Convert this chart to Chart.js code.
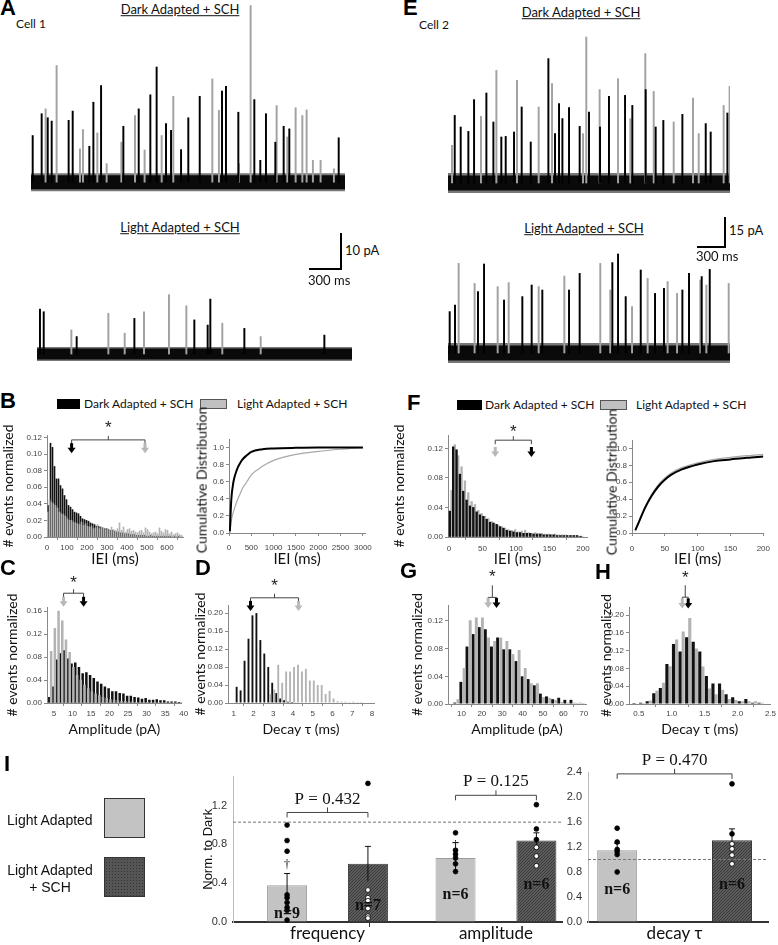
<!DOCTYPE html>
<html>
<head>
<meta charset="utf-8">
<script src="https://cdn.jsdelivr.net/npm/chart.js@4.4.1/dist/chart.umd.min.js"></script>
<style>
  body { margin: 0; background: #fff; }
  #fig { position: relative; width: 778px; height: 945px; overflow: hidden; background: #fff; }
  #fig canvas { position: absolute; }
  .t { position: absolute; white-space: nowrap; line-height: 1.2; color: #111; font-family: Lato, "Open Sans", sans-serif; }
  .letter { font: bold 22px "Liberation Sans", Arial, sans-serif; color: #000; }
  .box { position: absolute; box-sizing: border-box; }
</style>
</head>
<body>
<div id="fig"></div>
<script>
// ---------- A / E : example traces, event time (ms) and peak (pA) ----------
const c1DarkBlackT = [22, 106, 163, 200, 359, 397, 553, 591, 663, 872, 1016, 1125, 1184, 1272, 1319, 1413, 1481, 1588, 1797, 1834, 1950, 2100, 2156, 2209, 2297, 2375, 2428, 2891];
const c1DarkBlackA = [12.6, 18.5, 17.4, 16.5, 16.7, 19.2, 9.7, 21.6, 26.1, 15.1, 19.8, 23.6, 31.1, 15.8, 14.0, 8.8, 17.4, 23.2, 24.6, 25.9, 18.9, 22.3, 5.9, 18.5, 10.8, 15.1, 14.4, 12.0];
const c1DarkGrayT = [131, 234, 453, 481, 616, 703, 841, 969, 1059, 1219, 1328, 1694, 1756, 1944, 2053, 2297, 2397, 2475, 2538, 2578, 2637, 2709, 2834];
const c1DarkGrayA = [19.8, 31.5, 9.0, 14.2, 13.3, 5.0, 10.8, 18.0, 8.7, 12.6, 23.2, 27.9, 19.4, 5.0, 47.7, 20.7, 12.2, 20.1, 18.0, 19.5, 5.9, 5.9, 3.6];
const c1LightBlackT = [34, 69, 378, 919, 1481, 1606, 1631, 1950, 2700];
const c1LightBlackA = [12.1, 11.4, 4.7, 9.6, 9.2, 7.8, 14.8, 6.9, 5.1];
const c1LightGrayT = [316, 663, 816, 997, 1231, 1394, 1731, 2091];
const c1LightGrayA = [6.5, 11.0, 5.6, 11.4, 16.0, 13.0, 8.3, 4.7];

const c2DarkBlackT = [79, 143, 225, 286, 418, 493, 578, 625, 714, 796, 893, 1082, 1153, 1196, 1232, 1303, 1417, 1517, 1635, 1731, 1903, 1981, 2124, 2231, 2313, 2517, 2767, 2820, 2999];
const c2DarkBlackA = [33.8, 28, 25.8, 41.7, 45, 30.5, 23, 23.3, 25.5, 38, 20.5, 62.2, 24.7, 39.7, 32.2, 37.7, 28.3, 35.5, 28, 43.3, 43.8, 38.8, 46.7, 28, 31.3, 34.3, 29.7, 25.5, 35];
const c2DarkGrayT = [36, 346, 511, 732, 964, 1107, 1439, 1474, 1617, 1814, 1946, 2106, 2196, 2410, 2617, 2678, 2945, 3009];
const c2DarkGrayA = [18.8, 33.3, 56.3, 51.3, 38, 49.7, 24.7, 73, 46.7, 52.2, 32.2, 64.7, 45.8, 30.5, 42.5, 24.7, 38.8, 48.3];
const c2LightBlackT = [25, 82, 328, 393, 607, 803, 903, 1017, 1303, 1417, 1767, 1828, 1910, 2071, 2224, 2320, 2517, 2588, 2724, 2810];
const c2LightBlackA = [20.7, 24, 30.7, 44.5, 26.5, 28.2, 34, 31.5, 31.5, 39.8, 45.2, 49.5, 28.2, 41.5, 29.8, 32.3, 31.5, 39.8, 38.2, 41.8];
const c2LightGrayT = [107, 278, 525, 643, 964, 1239, 1624, 1731, 1964, 2131, 2345, 2446, 2695, 2760, 2999];
const c2LightGrayA = [44.8, 34.8, 33.2, 35.2, 33.2, 38.5, 44.8, 31.5, 23.2, 37.3, 35.7, 29.8, 36.5, 34, 34.8];

// ---------- B : cell 1 IEI histogram (10 ms bins) and cumulative ----------
const bBins = [5,15,25,35,45,55,65,75,85,95,105,115,125,135,145,155,165,175,185,195,205,215,225,235,245,255,265,275,285,295,305,315,325,335,345,355,365,375,385,395,405,415,425,435,445,455,465,475,485,495,505,515,525,535,545,555,565,575,585,595,605,615,625,635,645,655,665,675];
const bDark = [0.038,0.113,0.108,0.085,0.070,0.070,0.062,0.058,0.050,0.045,0.038,0.036,0.033,0.030,0.029,0.028,0.025,0.022,0.021,0.020,0.019,0.017,0.016,0.015,0.013,0.013,0.012,0.011,0.010,0.010,0.009,0.008,0.008,0.007,0.006,0.006,0.005,0.005,0.004,0.004,0.004,0.003,0.003,0.003,0.002,0.002,0.002,0.002,0.002,0.001,0.001,0.002,0.001,0.001,0.001,0.001,0.001,0.001,0.001,0.001,0.001,0.001,0.000,0.001,0.000,0.001,0.000,0.000];
const bLight = [0.030,0.045,0.042,0.040,0.038,0.035,0.030,0.028,0.027,0.025,0.022,0.020,0.020,0.018,0.017,0.016,0.015,0.018,0.014,0.016,0.013,0.012,0.013,0.010,0.011,0.015,0.010,0.012,0.011,0.009,0.010,0.008,0.012,0.009,0.008,0.010,0.017,0.008,0.012,0.006,0.009,0.010,0.007,0.008,0.006,0.005,0.007,0.008,0.005,0.011,0.009,0.006,0.004,0.005,0.006,0.004,0.011,0.007,0.005,0.009,0.008,0.004,0.006,0.003,0.004,0.005,0.003,0.002];
const bMeans = [123, 490];              // dark, light (ms)
const bCumX = [20, 50, 100, 150, 200, 250, 300, 400, 500, 750, 1000, 1500, 2000, 2500, 3000];
const bCumDark = [0.02, 0.38, 0.60, 0.70, 0.77, 0.82, 0.86, 0.91, 0.95, 0.98, 0.99, 0.997, 1.0, 1.0, 1.0];
const bCumLight = [0.0, 0.14, 0.25, 0.33, 0.40, 0.46, 0.52, 0.60, 0.68, 0.78, 0.85, 0.92, 0.955, 0.98, 1.0];

// ---------- C : cell 1 amplitude (1 pA bins) ----------
const cBins = [3.5,4.5,5.5,6.5,7.5,8.5,9.5,10.5,11.5,12.5,13.5,14.5,15.5,16.5,17.5,18.5,19.5,20.5,21.5,22.5,23.5,24.5,25.5,26.5,27.5,28.5,29.5,30.5,31.5,32.5,33.5,34.5,35.5,36.5,37.5,38.5,39.5];
const cDark = [0.010,0.028,0.075,0.086,0.091,0.077,0.068,0.070,0.062,0.051,0.053,0.048,0.043,0.037,0.033,0.028,0.025,0.020,0.020,0.017,0.016,0.012,0.012,0.010,0.009,0.007,0.008,0.005,0.005,0.006,0.004,0.004,0.002,0.002,0.002,0.001,0.001];
const cLight = [0,0.090,0.130,0.160,0.143,0.110,0.088,0.062,0.048,0.040,0.031,0.025,0.020,0.016,0.013,0.010,0.008,0.006,0.005,0.004,0.003,0.003,0.002,0.002,0.001,0.001,0.001,0.001,0,0,0,0,0,0,0,0,0];
const cMeans = [13, 7.6];

// ---------- D : cell 1 decay tau (0.2 ms bins) ----------
const dBins = [1.1,1.3,1.5,1.7,1.9,2.1,2.3,2.5,2.7,2.9,3.1,3.3,3.5,3.7,3.9,4.1,4.3,4.5,4.7,4.9,5.1,5.3,5.5,5.7,5.9,6.1,6.3,6.5,6.7,6.9,7.1,7.3,7.5,7.7,7.9];
const dDark = [0.036,0.028,0.094,0.143,0.195,0.200,0.140,0.110,0.080,0.045,0.022,0.010,0.006,0.003,0.002,0.001,0,0,0,0,0,0,0,0,0,0,0,0,0,0,0,0,0,0,0];
const dLight = [0,0,0,0,0,0,0,0,0,0.020,0.030,0.085,0.045,0.070,0.070,0.080,0.085,0.070,0.076,0.050,0.050,0.040,0.040,0.020,0.027,0.010,0.004,0.003,0.003,0.002,0.003,0.002,0.002,0.001,0.001];
const dMeans = [1.85, 4.28];

// ---------- F : cell 2 IEI (5 ms bins) and cumulative ----------
const fBins = [2.5,7.5,12.5,17.5,22.5,27.5,32.5,37.5,42.5,47.5,52.5,57.5,62.5,67.5,72.5,77.5,82.5,87.5,92.5,97.5,102.5,107.5,112.5,117.5,122.5,127.5,132.5,137.5,142.5,147.5,152.5,157.5,162.5,167.5,172.5,177.5,182.5,187.5,192.5,197.5];
const fDark = [0.035,0.122,0.118,0.085,0.062,0.050,0.042,0.040,0.034,0.030,0.028,0.024,0.020,0.019,0.017,0.014,0.012,0.009,0.008,0.007,0.006,0.006,0.005,0.005,0.005,0.004,0.004,0.004,0.003,0.003,0.003,0.003,0.002,0.002,0.002,0.002,0.002,0.002,0.002,0.001];
const fLight = [0.063,0.125,0.110,0.095,0.076,0.060,0.048,0.044,0.036,0.032,0.028,0.025,0.021,0.018,0.016,0.014,0.012,0.010,0.009,0.010,0.007,0.008,0.009,0.006,0.005,0.006,0.005,0.005,0.004,0.004,0.003,0.004,0.003,0.003,0.003,0.002,0.002,0.002,0.001,0.001];
const fMeans = [123, 69];
const fCumX = [5, 10, 20, 30, 40, 50, 60, 75, 100, 125, 150, 175, 200];
const fCumDark = [0.03, 0.12, 0.30, 0.44, 0.55, 0.63, 0.69, 0.75, 0.81, 0.85, 0.87, 0.89, 0.905];
const fCumLight = [0.04, 0.13, 0.31, 0.46, 0.57, 0.65, 0.71, 0.77, 0.83, 0.87, 0.895, 0.915, 0.93];

// ---------- G : cell 2 amplitude (3 pA bins) ----------
const gBins = [6,9,12,15,18,21,24,27,30,33,36,39,42,45,48,51,54,57,60,63,66,69];
const gDark = [0.002,0.032,0.083,0.101,0.111,0.108,0.083,0.096,0.079,0.079,0.062,0.040,0.036,0.027,0.015,0.011,0.007,0.009,0.006,0.006,0.001,0.001];
const gLight = [0,0.007,0.052,0.121,0.125,0.125,0.096,0.091,0.096,0.091,0.072,0.078,0.052,0.030,0.030,0.010,0.009,0.006,0.003,0.002,0.002,0.002];
const gMeans = [27.2, 23.1];

// ---------- H : cell 2 decay tau (0.1 ms bins) ----------
const hBins = [0.45,0.55,0.65,0.75,0.85,0.95,1.05,1.15,1.25,1.35,1.45,1.55,1.65,1.75,1.85,1.95,2.05,2.15,2.25,2.35];
const hDark = [0.002,0.003,0.006,0.024,0.036,0.090,0.135,0.118,0.150,0.140,0.118,0.063,0.046,0.046,0.022,0.015,0.006,0.011,0.003,0.003];
const hLight = [0,0.002,0.008,0.030,0.048,0.085,0.145,0.163,0.193,0.125,0.084,0.035,0.022,0.032,0.011,0.009,0.006,0.006,0.006,0.003];
const hMeans = [1.25, 1.16];

// ---------- I : summary, normalised to dark ----------
const iCats = ['frequency', 'amplitude'];
const iLight = [0.38, 0.66];
const iLightTop = [0.50, 0.82];
const iSch = [0.60, 0.84];
const iSchTop = [0.78, 0.92];
const iLightCells = [[1.00, 0.84, 0.73, 0.28, 0.25, 0.20, 0.15, 0.12, 0.02], [0.92, 0.74, 0.70, 0.66, 0.60, 0.52]];
const iSchCells = [[1.43, 0.33, 0.25, 0.22, 0.14, 0.06, 0.04], [1.21, 0.96, 0.85, 0.77, 0.68, 0.58]];
const iLightN = ['n=9', 'n=6'];
const iSchN = ['n=7', 'n=6'];
const iP = ['P = 0.432', 'P = 0.125'];
const decayCats = ['decay τ'];
const decayLight = [1.15];
const decayLightTop = [1.26];
const decaySch = [1.31];
const decaySchTop = [1.49];
const decayLightCells = [[1.50, 1.28, 1.16, 1.13, 1.08, 0.80]];
const decaySchCells = [[2.21, 1.41, 1.25, 1.17, 1.07, 0.93]];
const decayP = ['P = 0.470'];

// ---------------------------------------------------------------------
const fig = document.getElementById('fig');
Chart.defaults.font.family = '"Liberation Sans", Arial, sans-serif';
Chart.defaults.animation = false;
Chart.defaults.responsive = false;
Chart.defaults.plugins.legend.display = false;
Chart.defaults.plugins.tooltip.enabled = false;

const BLACK = '#111', GREY = '#b3b3b3';

function canvasAt(l, t, w, h) {
  const c = document.createElement('canvas');
  c.width = w; c.height = h;
  c.style.left = l + 'px'; c.style.top = t + 'px';
  c.style.width = w + 'px'; c.style.height = h + 'px';
  fig.appendChild(c);
  return c.getContext('2d');
}

function txt(s, x, y, css, centered, cls) {
  const d = document.createElement('div');
  d.className = cls || 't';
  d.textContent = s;
  d.style.position = 'absolute';
  d.style.whiteSpace = 'nowrap';
  d.style.left = x + 'px';
  d.style.top = y + 'px';
  d.style.transform = centered ? 'translate(-50%,-50%)' : 'translateY(-50%)';
  if (css) Object.assign(d.style, css);
  fig.appendChild(d);
  return d;
}

function vtxt(s, x, y, css) {
  const d = txt(s, x, y, css, true);
  d.style.transform = 'translate(-50%,-50%) rotate(-90deg)';
}

function rect(l, t, w, h, css) {
  const d = document.createElement('div');
  d.className = 'box';
  Object.assign(d.style, { left: l + 'px', top: t + 'px', width: w + 'px', height: h + 'px' }, css);
  fig.appendChild(d);
}

// dotted fill used for the "+ SCH" bars
function dotPattern(ctx) {
  const c = document.createElement('canvas');
  c.width = 3; c.height = 3;
  const g = c.getContext('2d');
  g.fillStyle = '#5c5c5c'; g.fillRect(0, 0, 3, 3);
  g.fillStyle = '#3a3a3a'; g.fillRect(0, 0, 1, 1); g.fillRect(2, 1, 1, 1); g.fillRect(1, 2, 1, 1);
  return ctx.createPattern(c, 'repeat');
}

// ---------------- traces ----------------
function trace(l, t, w, h, xMax, yMin, yMax, bt, ba, gt, ga, band) {
  const ctx = canvasAt(l, t, w, h);
  const pts = (ts, as) => ts.map((v, i) => ({ x: v, y: as[i] }));
  new Chart(ctx, {
    type: 'bar',
    data: { datasets: [
      { data: pts(bt, ba), backgroundColor: '#000', barThickness: 1.3 },
      { data: pts(gt, ga), backgroundColor: '#a2a2a2', barThickness: 1.3 },
      { type: 'line', data: [{ x: 0, y: 0 }, { x: xMax, y: 0 }], borderColor: '#0a0a0a', borderWidth: band[1], pointRadius: 0 },
      { type: 'line', data: [{ x: 0, y: 0 }, { x: xMax, y: 0 }], borderColor: '#777', borderWidth: band[0], pointRadius: 0 }
    ] },
    options: {
      layout: { padding: 0 },
      scales: {
        x: { type: 'linear', display: false, min: 0, max: xMax, offset: false },
        y: { display: false, min: yMin, max: yMax }
      }
    }
  });
}

// ---------------- histogram helpers ----------------
function arrow(ctx, x, y, col) {
  ctx.fillStyle = col;
  ctx.fillRect(x - 1.5, y - 5, 3, 5);
  ctx.beginPath();
  ctx.moveTo(x - 4, y - 0.5); ctx.lineTo(x + 4, y - 0.5); ctx.lineTo(x, y + 5);
  ctx.closePath(); ctx.fill();
}

const meanMarks = {
  id: 'meanMarks',
  afterDraw(chart, args, o) {
    if (!o.means) return;
    const { ctx, scales: { x, y } } = chart;
    const xd = x.getPixelForValue(o.means[0]), xl = x.getPixelForValue(o.means[1]);
    const ya = y.getPixelForValue(o.at[0]), yb = y.getPixelForValue(o.at[1]), ys = y.getPixelForValue(o.at[2]);
    const x0 = Math.min(xd, xl), x1 = Math.max(xd, xl), xm = (x0 + x1) / 2;
    ctx.save();
    ctx.strokeStyle = '#444'; ctx.lineWidth = 1;
    ctx.beginPath();
    ctx.moveTo(x0, yb + 4); ctx.lineTo(x0, yb); ctx.lineTo(x1, yb); ctx.lineTo(x1, yb + 4);
    ctx.moveTo(xm, yb); ctx.lineTo(xm, yb - (o.stem || 4));
    ctx.stroke();
    arrow(ctx, xd, ya, '#000');
    arrow(ctx, xl, ya, '#b8b8b8');
    ctx.fillStyle = '#222';
    ctx.font = '17px "Liberation Sans"';
    ctx.textAlign = 'center'; ctx.textBaseline = 'middle';
    ctx.fillText('*', xm, ys);
    ctx.restore();
  }
};

function linAxis(o, horiz, size) {
  return {
    type: 'linear', min: o.min, max: o.max, offset: false,
    afterBuildTicks: s => { s.ticks = o.ticks.map(v => ({ value: v })); },
    afterFit: s => { if (horiz) s.height = size; else s.width = size; },
    ticks: { autoSkip: false, maxRotation: 0, font: { size: 8 }, color: '#444', padding: o.pad == null ? 2 : o.pad,
             callback: v => Number(v).toFixed(o.dec) },
    grid: { display: true, drawOnChartArea: false, drawTicks: true, tickLength: 3, color: '#888' },
    border: { display: true, color: '#888' },
    title: { display: !!o.title, text: o.title, color: '#111',
             font: { family: 'Lato', size: o.ts || 14 }, padding: { top: o.tp == null ? 2 : o.tp, bottom: 0 } }
  };
}

function plotBox(g, cfg) {
  const l = Math.round(g.pl - g.yW), t = Math.round(g.pt - g.padT);
  const w = Math.round(g.pr + g.padR - l), h = Math.round(g.pb + g.xH - t);
  const ctx = canvasAt(l, t, w, h);
  cfg.options.layout = { padding: { top: g.padT, right: g.padR, left: 0, bottom: 0 } };
  return new Chart(ctx, cfg);
}

function hist(g, bins, first, second, xo, yo, marks, pct) {
  plotBox(g, {
    type: 'bar',
    data: { datasets: [first, second].map(d => ({
      data: bins.map((b, i) => ({ x: b, y: d.v[i] })),
      backgroundColor: d.c, borderWidth: 0, categoryPercentage: pct, barPercentage: 1
    })) },
    options: {
      scales: { x: linAxis(xo, true, g.xH), y: linAxis(yo, false, g.yW) },
      plugins: { meanMarks: marks }
    },
    plugins: [meanMarks]
  });
}

function cumul(g, xs, dark, light, xo, yo) {
  const pts = v => xs.map((x, i) => ({ x, y: v[i] }));
  plotBox(g, {
    type: 'line',
    data: { datasets: [
      { data: pts(dark), borderColor: '#000', borderWidth: 2, pointRadius: 0, cubicInterpolationMode: 'monotone' },
      { data: pts(light), borderColor: '#a8a8a8', borderWidth: 1.2, pointRadius: 0, cubicInterpolationMode: 'monotone' }
    ] },
    options: { scales: { x: linAxis(xo, true, g.xH), y: linAxis(yo, false, g.yW) } }
  });
}

// ---------------- summary bar plugin ----------------
const barExtras = {
  id: 'barExtras',
  afterDatasetsDraw(chart, args, o) {
    const { ctx, scales: { y }, chartArea } = chart;
    ctx.save();
    const yr = y.getPixelForValue(o.ref);
    ctx.strokeStyle = '#777'; ctx.lineWidth = 1; ctx.setLineDash([3, 2]);
    ctx.beginPath(); ctx.moveTo(chartArea.left, yr); ctx.lineTo(chartArea.right, yr); ctx.stroke();
    ctx.setLineDash([]);
    o.sets.forEach((s, di) => {
      chart.getDatasetMeta(di).data.forEach((bar, i) => {
        const bx = bar.x;
        const yt = y.getPixelForValue(s.top[i]);
        const ylo = y.getPixelForValue(2 * s.mean[i] - s.top[i]);
        ctx.strokeStyle = '#111'; ctx.lineWidth = 1;
        ctx.beginPath();
        ctx.moveTo(bx, ylo); ctx.lineTo(bx, yt);
        ctx.moveTo(bx - 3, yt); ctx.lineTo(bx + 3, yt);
        ctx.stroke();
        s.cells[i].forEach(v => {
          ctx.beginPath();
          ctx.arc(bx, y.getPixelForValue(v), 2.4, 0, Math.PI * 2);
          ctx.fillStyle = (s.hollow && v < s.mean[i]) ? '#fff' : '#000';
          ctx.fill();
          ctx.strokeStyle = '#000'; ctx.lineWidth = 0.8; ctx.stroke();
        });
        if (s.dagger && s.dagger[i] != null) {
          ctx.fillStyle = '#222'; ctx.font = '13px "Liberation Serif"';
          ctx.textAlign = 'center'; ctx.textBaseline = 'middle';
          ctx.fillText('†', bx, y.getPixelForValue(s.dagger[i]));
        }
        ctx.fillStyle = '#111'; ctx.font = 'bold 16px "Liberation Serif"';
        ctx.textAlign = 'center'; ctx.textBaseline = 'middle';
        ctx.fillText(s.n[i], bx, y.getPixelForValue(s.nAt[i]));
      });
    });
    const m0 = chart.getDatasetMeta(0).data, m1 = chart.getDatasetMeta(1).data;
    o.p.forEach((p, i) => {
      const x0 = m0[i].x, x1 = m1[i].x, xm = (x0 + x1) / 2;
      const yb = y.getPixelForValue(o.bracketAt[i]);
      ctx.strokeStyle = '#444'; ctx.lineWidth = 1;
      ctx.beginPath();
      ctx.moveTo(x0, yb + 5); ctx.lineTo(x0, yb); ctx.lineTo(x1, yb); ctx.lineTo(x1, yb + 5);
      ctx.moveTo(xm, yb); ctx.lineTo(xm, yb - 5);
      ctx.stroke();
      ctx.fillStyle = '#111'; ctx.font = '17px "Liberation Serif"';
      ctx.textAlign = 'center'; ctx.textBaseline = 'middle';
      ctx.fillText(p, xm, y.getPixelForValue(o.pAt[i]));
    });
    ctx.restore();
  }
};

// g.x: [min, max] of the category axis (category i sits at i + 1), off: half distance between the two bars
function summary(g, cats, light, sch, ymax, yticks, title, extras, off) {
  const pat = dotPattern(document.createElement('canvas').getContext('2d'));
  const at = (vals, d) => vals.map((v, i) => ({ x: i + 1 + d, y: v }));
  const catTicks = g.mid ? [1, 1.5, 2] : [1];
  plotBox(g, {
    type: 'bar',
    data: { datasets: [
      { data: at(light, -off), backgroundColor: '#c3c3c3', borderColor: '#9c9c9c', borderWidth: 1, grouped: false, maxBarThickness: 40 },
      { data: at(sch, off), backgroundColor: pat, borderColor: '#3a3a3a', borderWidth: 1, grouped: false, maxBarThickness: 40 }
    ] },
    options: {
      scales: {
        x: {
          type: 'linear', min: g.x[0], max: g.x[1], offset: false,
          afterBuildTicks: s => { s.ticks = catTicks.map(v => ({ value: v })); },
          afterFit: s => { s.height = g.xH; },
          ticks: { autoSkip: false, maxRotation: 0, font: { family: 'Lato', size: 17 }, color: '#111', padding: -4,
                   callback: v => (Number.isInteger(v) ? cats[v - 1] : '') },
          grid: { display: true, drawOnChartArea: false, drawTicks: true, tickLength: 5,
                  color: c => (c.tick && !Number.isInteger(c.tick.value)) ? '#333' : 'rgba(0,0,0,0)' },
          border: { display: true, color: '#333', width: 2 }
        },
        y: {
          min: 0, max: ymax,
          afterBuildTicks: s => { s.ticks = yticks.map(v => ({ value: v })); },
          afterFit: s => { s.width = g.yW; },
          ticks: { font: { family: '"Liberation Sans Narrow", "Liberation Sans"', size: 11 }, color: '#333', padding: 6,
                   callback: v => Number(v).toFixed(1) },
          grid: { display: true, drawOnChartArea: false, drawTicks: false, color: 'rgba(0,0,0,0)' },
          border: { display: true, color: '#bbb' },
          title: { display: !!title, text: title, color: '#111', font: { size: 13 }, padding: { top: 2, bottom: 0 } }
        }
      },
      plugins: { barExtras: extras }
    },
    plugins: [barExtras]
  });
}

// ===================== build figure =====================
// ---- A ----
txt('A', 0, 8, null, false, 'letter');
txt('Cell 1', 16, 24, { fontSize: '12px' });
txt('Dark Adapted + SCH', 180, 10, { fontSize: '13px', textDecoration: 'underline' }, true);
txt('Light Adapted + SCH', 180, 228, { fontSize: '13px', textDecoration: 'underline' }, true);
trace(31, 0, 314, 197, 2944, -4, 49.2, c1DarkBlackT, c1DarkBlackA, c1DarkGrayT, c1DarkGrayA, [18, 14]);
trace(37, 285, 315, 85, 2953, -4.3, 18.6, c1LightBlackT, c1LightBlackA, c1LightGrayT, c1LightGrayA, [14, 11]);
rect(340, 233, 2, 37, { background: '#000' });
rect(309, 268, 33, 2, { background: '#000' });
txt('10 pA', 345, 251, { fontSize: '13px' });
txt('300 ms', 308, 281, { fontSize: '13px' });

// ---- E ----
txt('E', 403, 8, null, false, 'letter');
txt('Cell 2', 419, 25, { fontSize: '12px' });
txt('Dark Adapted + SCH', 581, 13, { fontSize: '13px', textDecoration: 'underline' }, true);
txt('Light Adapted + SCH', 584, 229, { fontSize: '13px', textDecoration: 'underline' }, true);
trace(448, 30, 282, 170, 3020, -8.5, 76.5, c2DarkBlackT, c2DarkBlackA, c2DarkGrayT, c2DarkGrayA, [20, 15]);
trace(448, 250, 282, 122, 3020, -9.5, 51.5, c2LightBlackT, c2LightBlackA, c2LightGrayT, c2LightGrayA, [20, 15]);
rect(724, 217, 2, 31, { background: '#000' });
rect(697, 246, 29, 2, { background: '#000' });
txt('15 pA', 729, 231, { fontSize: '13px' });
txt('300 ms', 696, 257, { fontSize: '13px' });

// ---- B / F legends ----
txt('B', 0, 401, null, false, 'letter');
rect(57, 399, 23, 10, { background: '#000' });
txt('Dark Adapted + SCH', 84, 403.5, { fontSize: '12px' });
rect(200, 399, 27, 10, { background: '#c0c0c0', border: '1px solid #555' });
txt('Light Adapted + SCH', 237, 403.5, { fontSize: '12px' });

txt('F', 407, 403, null, false, 'letter');
rect(457, 400, 25, 10, { background: '#000' });
txt('Dark Adapted + SCH', 485, 404.5, { fontSize: '12px' });
rect(600, 400, 27, 10, { background: '#c0c0c0', border: '1px solid #555' });
txt('Light Adapted + SCH', 636, 404.5, { fontSize: '12px' });

// ---- B histogram + cumulative ----
hist({ pl: 47, pr: 183, pt: 435, pb: 537, yW: 47, xH: 31, padT: 18, padR: 8 }, bBins,
  { v: bLight, c: GREY }, { v: bDark, c: BLACK },
  { min: 0, max: 680, ticks: [0, 100, 200, 300, 400, 500, 600], dec: 0, pad: 3, title: 'IEI (ms)', ts: 15, tp: 0 },
  { min: 0, max: 0.1229, ticks: [0, 0.02, 0.04, 0.06, 0.08, 0.10, 0.12], dec: 2, title: '# events normalized', tp: 0 },
  { means: bMeans, at: [0.107, 0.117, 0.131] }, 1);
cumul({ pl: 229, pr: 367, pt: 439, pb: 533, yW: 37, xH: 35, padT: 8, padR: 12 }, bCumX, bCumDark, bCumLight,
  { min: 0, max: 3050, ticks: [0, 500, 1000, 1500, 2000, 2500, 3000], dec: 0, pad: 7, title: 'IEI (ms)', ts: 15, tp: 0 },
  { min: 0, max: 1.1, ticks: [0, 0.2, 0.4, 0.6, 0.8, 1.0], dec: 1 });
vtxt('Cumulative Distribution', 202, 480, { fontSize: '14px' });

// ---- C / D ----
txt('C', 0, 568, null, false, 'letter');
txt('D', 195, 568, null, false, 'letter');
hist({ pl: 47, pr: 183, pt: 607, pb: 703, yW: 47, xH: 35, padT: 32, padR: 8 }, cBins,
  { v: cLight, c: GREY }, { v: cDark, c: BLACK },
  { min: 3.13, max: 39.5, ticks: [5, 10, 15, 20, 25, 30, 35, 40], dec: 0, pad: 3, title: 'Amplitude (pA)', tp: 0 },
  { min: 0, max: 0.167, ticks: [0, 0.04, 0.08, 0.12, 0.16], dec: 2, title: '# events normalized', tp: 4 },
  { means: cMeans, at: [0.176, 0.191, 0.209] }, 1);
hist({ pl: 228, pr: 374, pt: 605, pb: 703, yW: 38, xH: 35, padT: 30, padR: 8 }, dBins,
  { v: dLight, c: GREY }, { v: dDark, c: BLACK },
  { min: 0.71, max: 8.1, ticks: [1, 2, 3, 4, 5, 6, 7, 8], dec: 0, pad: 3, title: 'Decay τ (ms)', tp: 0 },
  { min: 0, max: 0.218, ticks: [0, 0.04, 0.08, 0.12, 0.16, 0.20], dec: 2, title: '# events normalized', tp: 2 },
  { means: dMeans, at: [0.216, 0.234, 0.259] }, 0.95);

// ---- F histogram + cumulative ----
hist({ pl: 448, pr: 587, pt: 435, pb: 537, yW: 58, xH: 31, padT: 14, padR: 8 }, fBins,
  { v: fDark, c: BLACK }, { v: fLight, c: GREY },
  { min: -1.5, max: 206, ticks: [0, 50, 100, 150, 200], dec: 0, pad: 4, title: 'IEI (ms)', ts: 15, tp: 0 },
  { min: 0, max: 0.138, ticks: [0, 0.04, 0.08, 0.12], dec: 2, title: '# events normalized', tp: 1 },
  { means: fMeans, at: [0.115, 0.131, 0.141] }, 1);
cumul({ pl: 632, pr: 770, pt: 440, pb: 533, yW: 30, xH: 35, padT: 8, padR: 8 }, fCumX, fCumDark, fCumLight,
  { min: 0, max: 200, ticks: [0, 50, 100, 150, 200], dec: 0, pad: 8, title: 'IEI (ms)', ts: 15, tp: 0 },
  { min: 0, max: 1.1, ticks: [0, 0.2, 0.4, 0.6, 0.8, 1.0], dec: 1 });
vtxt('Cumulative Distribution', 612, 482, { fontSize: '14px' });

// ---- G / H ----
txt('G', 400, 571, null, false, 'letter');
txt('H', 595, 572, null, false, 'letter');
hist({ pl: 448, pr: 586, pt: 605, pb: 704, yW: 41, xH: 34, padT: 36, padR: 8 }, gBins,
  { v: gLight, c: GREY }, { v: gDark, c: BLACK },
  { min: 3.4, max: 71.1, ticks: [10, 20, 30, 40, 50, 60, 70], dec: 0, pad: 2, title: 'Amplitude (pA)', tp: 0 },
  { min: 0, max: 0.143, ticks: [0, 0.04, 0.08, 0.12], dec: 2, title: '# events normalized', tp: 2 },
  { means: gMeans, at: [0.146, 0.154, 0.183], stem: 12 }, 0.95);
hist({ pl: 629, pr: 773, pt: 607, pb: 704, yW: 33, xH: 34, padT: 36, padR: 5 }, hBins,
  { v: hDark, c: BLACK }, { v: hLight, c: GREY },
  { min: 0.35, max: 2.5, ticks: [0.5, 1.0, 1.5, 2.0, 2.5], dec: 1, pad: 2, title: 'Decay τ (ms)', tp: 0 },
  { min: 0, max: 0.218, ticks: [0, 0.04, 0.08, 0.12, 0.16, 0.20], dec: 2, title: '# events normalized', tp: 2 },
  { means: hMeans, at: [0.226, 0.24, 0.283], stem: 12 }, 0.95);

// ---- I ----
txt('I', 4, 764, null, false, 'letter');
txt('Light Adapted', 7, 820, { fontFamily: '"Liberation Sans", Arial', fontSize: '14px' });
rect(104, 798, 41, 40, { background: '#c3c3c3', border: '1.5px solid #333' });
txt('Light Adapted', 50, 870, { fontFamily: '"Liberation Sans", Arial', fontSize: '14px' }, true);
txt('+ SCH', 50, 887, { fontFamily: '"Liberation Sans", Arial', fontSize: '14px' }, true);
rect(104, 857, 41, 40, { background: '#555', border: '1.5px solid #333',
  backgroundImage: 'radial-gradient(#333 35%, transparent 40%)', backgroundSize: '3px 3px' });

summary({ pl: 233, pr: 562, pt: 772, pb: 922, yW: 34, xH: 23, padT: 8, padR: 2, x: [0.439, 2.392], mid: true },
  iCats, iLight, iSch, 1.5, [0, 0.4, 0.8, 1.2], 'Norm. to Dark',
  { ref: 1.03,
    sets: [
      { mean: iLight, top: iLightTop, cells: iLightCells, n: iLightN, nAt: [0.08, 0.28], dagger: [0.59, 0.79] },
      { mean: iSch, top: iSchTop, cells: iSchCells, n: iSchN, nAt: [0.17, 0.38], hollow: true }
    ],
    p: iP, bracketAt: [1.13, 1.307], pAt: [1.267, 1.45] }, 0.24);

summary({ pl: 588, pr: 768, pt: 772, pb: 922, yW: 28, xH: 23, padT: 26, padR: 8, x: [0.519, 1.519] },
  decayCats, decayLight, decaySch, 2.4, [0, 0.4, 0.8, 1.2, 1.6, 2.0, 2.4], '',
  { ref: 1.0,
    sets: [
      { mean: decayLight, top: decayLightTop, cells: decayLightCells, n: ['n=6'], nAt: [0.52] },
      { mean: decaySch, top: decaySchTop, cells: decaySchCells, n: ['n=6'], nAt: [0.59], hollow: true }
    ],
    p: decayP, bracketAt: [2.37], pAt: [2.59] }, 0.319);
</script>
</body>
</html>
